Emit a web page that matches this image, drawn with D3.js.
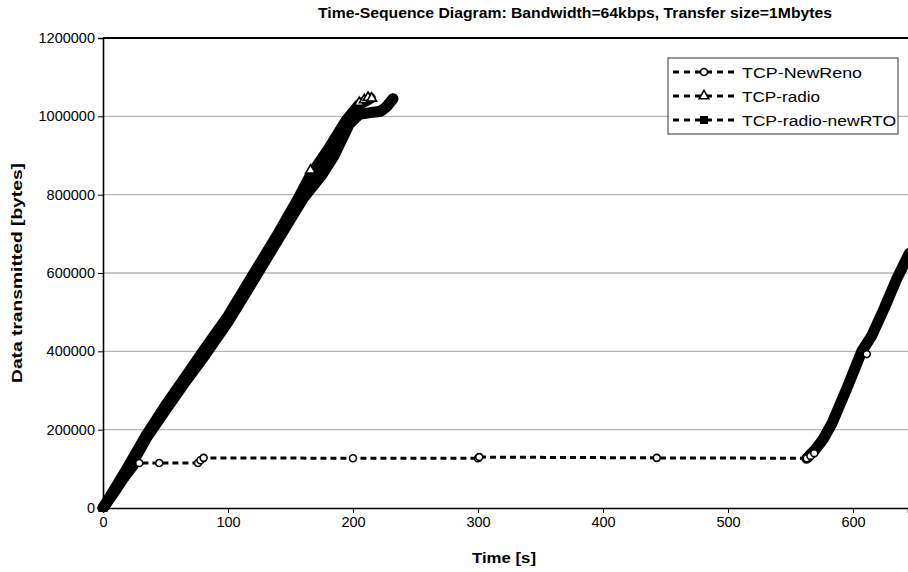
<!DOCTYPE html>
<html><head><meta charset="utf-8">
<script src="https://cdn.jsdelivr.net/npm/d3@7"></script>
<style>body{margin:0;background:#fff}svg{display:block;font-family:"Liberation Sans",Arial,sans-serif}</style>
</head><body><svg id="c" width="908" height="572"></svg>
<script>
// ---- data ----
const title = "Time-Sequence Diagram: Bandwidth=64kbps, Transfer size=1Mbytes";
const xLabel = "Time [s]";
const yLabel = "Data transmitted [bytes]";
const xTicks = [0,100,200,300,400,500,600];
const yTicks = [0,200000,400000,600000,800000,1000000,1200000];
const seriesNames = ["TCP-NewReno","TCP-radio","TCP-radio-newRTO"];

// dense (heavily overplotted) parts of each trace
const radioBand = [[0,0],[10,52000],[20,105000],[35,188000],[50,262000],[65,330000],[80,400000],[100,490000],[120,595000],[140,700000],[157,795000],[166,850000],[180,915000],[195,992000],[205,1030000],[214,1046000]];
const rtoBand = [[0,0],[10,45000],[20,95000],[35,180000],[50,250000],[65,318000],[82,392000],[100,475000],[122,590000],[140,685000],[160,790000],[175,850000],[185,900000],[197,980000],[205,1005000],[215,1010000],[222,1013000],[227,1025000],[232,1045000]];
const renoBandEarly = [[0,0],[8,38000],[16,75000],[24,108000]];
const renoBandLate = [[563,127000],[570,150000],[576,175000],[583,215000],[595,305000],[607,400000],[611,420000],[615,440000],[625,510000],[635,585000],[645,650000]];
// sparse, individually visible samples
const renoPoints = [[24,108000],[29,115000],[45,115000],[76,115000],[78,122000],[80.5,128000],[200,127000],[300,127000],[301,130000],[443,128000],[563,127000],[566,133000],[569,140000]];
const renoOutliers = [[611,393000]];
const radioPoints = [[166,862000],[205,1035000],[209,1042000],[212,1048000],[215,1046000]];
const rtoPoints = [[218,1008000],[223,1015000],[228,1030000],[232,1045000]];

// ---- layout ----
const svg = d3.select("#c");
const L=103, R=908, T=38, B=508;
const x = d3.scaleLinear().domain([0,644]).range([L,R]);
const y = d3.scaleLinear().domain([0,1200000]).range([B,T]);

// grid
svg.append("g").selectAll("line").data(yTicks.filter(v=>v>0&&v<1200000)).join("line")
  .attr("x1",L).attr("x2",R).attr("y1",d=>y(d)).attr("y2",d=>y(d))
  .attr("stroke","#b4b4b4").attr("stroke-width",1.3);
svg.append("line").attr("x1",L).attr("x2",R).attr("y1",y(1200000)).attr("y2",y(1200000))
  .attr("stroke","#000").attr("stroke-width",2);

// axes
const ya = svg.append("g").attr("transform",`translate(${L},0)`)
  .call(d3.axisLeft(y).tickValues(yTicks).tickFormat(d3.format("d")).tickSize(5).tickPadding(3));
const xa = svg.append("g").attr("transform",`translate(0,${B})`)
  .call(d3.axisBottom(x).tickValues(xTicks).tickFormat(d3.format("d")).tickSize(5).tickPadding(4));
[ya,xa].forEach(g=>{
  g.select(".domain").attr("stroke","#000").attr("stroke-width",1.6);
  g.selectAll(".tick line").attr("stroke","#000").attr("stroke-width",1);
  g.selectAll("text").attr("font-size",14.5).attr("fill","#000").attr("font-family","Liberation Sans, Arial, sans-serif");
});

// clip
svg.append("clipPath").attr("id","clip").append("rect").attr("x",L-8).attr("y",T-10).attr("width",R-L+8).attr("height",B-T+14);
const plot = svg.append("g").attr("clip-path","url(#clip)");
const line = d3.line().x(d=>x(d[0])).y(d=>y(d[1]));

// dashed sparse line of NewReno
plot.append("path").attr("d",line(renoPoints)).attr("fill","none")
  .attr("stroke","#000").attr("stroke-width",3).attr("stroke-dasharray","6,4");

// dense bands
[radioBand, rtoBand, renoBandEarly, renoBandLate].forEach(b=>{
  plot.append("path").attr("d",line(b)).attr("fill","none").attr("stroke","#000")
    .attr("stroke-width",11).attr("stroke-linejoin","round").attr("stroke-linecap","round");
});

// markers
const circ = (g,data)=>g.selectAll(null).data(data).join("circle")
  .attr("cx",d=>x(d[0])).attr("cy",d=>y(d[1])).attr("r",3.5)
  .attr("fill","#fff").attr("stroke","#000").attr("stroke-width",1.6);
circ(plot, renoPoints.slice(1));
circ(plot, renoOutliers);
const tri = d3.symbol().type(d3.symbolTriangle).size(40);
plot.selectAll(null).data(radioPoints).join("path").attr("d",tri)
  .attr("transform",d=>`translate(${x(d[0])},${y(d[1])})`)
  .attr("fill","#fff").attr("stroke","#000").attr("stroke-width",1.6);
plot.selectAll(null).data(rtoPoints).join("rect")
  .attr("x",d=>x(d[0])-4).attr("y",d=>y(d[1])-4).attr("width",8).attr("height",8).attr("fill","#000");

// titles
const fit = (sel,len)=>sel.attr("textLength",len).attr("lengthAdjust","spacingAndGlyphs");
fit(svg.append("text").attr("x",575).attr("y",18).attr("text-anchor","middle")
  .attr("font-size",15).attr("font-weight","bold").text(title), 514);
fit(svg.append("text").attr("x",504).attr("y",563).attr("text-anchor","middle")
  .attr("font-size",15.5).attr("font-weight","bold").text(xLabel), 64);
fit(svg.append("text").attr("transform","translate(22,273) rotate(-90)").attr("text-anchor","middle")
  .attr("font-size",15.5).attr("font-weight","bold").text(yLabel), 220);

// legend
const lg = svg.append("g");
lg.append("rect").attr("x",668).attr("y",58).attr("width",230).attr("height",76)
  .attr("fill","#fff").attr("stroke","#333").attr("stroke-width",1);
const legLens = [120,78,154];
seriesNames.forEach((n,i)=>{
  const yy = 72 + i*24;
  lg.append("line").attr("x1",673).attr("x2",736).attr("y1",yy).attr("y2",yy)
    .attr("stroke","#000").attr("stroke-width",3).attr("stroke-dasharray","6,5");
  if(i===0) lg.append("circle").attr("cx",704).attr("cy",yy).attr("r",3.5).attr("fill","#fff").attr("stroke","#000").attr("stroke-width",1.6);
  if(i===1) lg.append("path").attr("d",tri).attr("transform",`translate(704,${yy})`).attr("fill","#fff").attr("stroke","#000").attr("stroke-width",1.6);
  if(i===2) lg.append("rect").attr("x",700).attr("y",yy-4).attr("width",8).attr("height",8).attr("fill","#000");
  fit(lg.append("text").attr("x",742).attr("y",yy+5.5).attr("font-size",15.5).text(n), legLens[i]);
});
</script></body></html>
